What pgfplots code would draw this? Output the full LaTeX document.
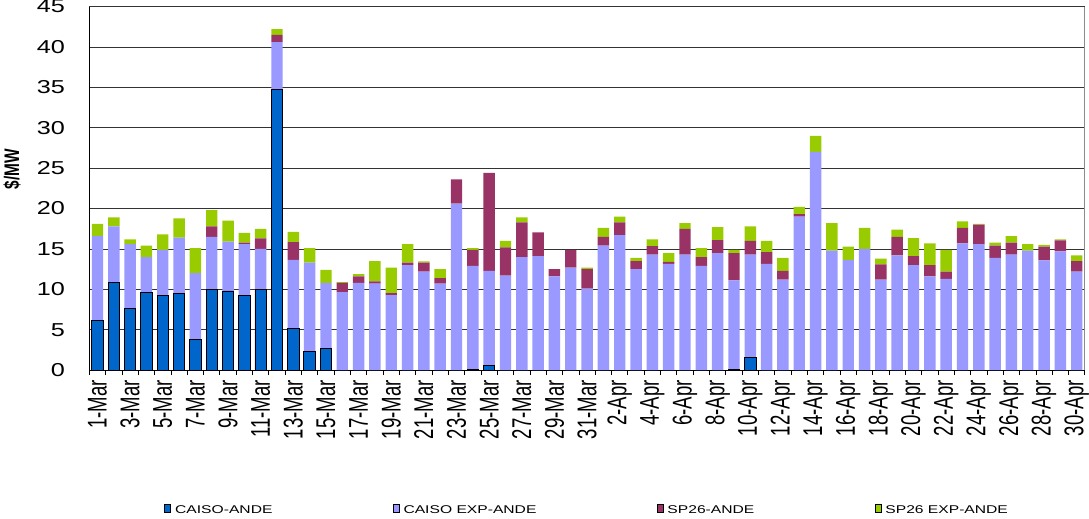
\documentclass[border=0pt]{standalone}
\usepackage{fontspec}
\setmainfont{Liberation Sans}
\newfontfamily\ytickfont{Liberation Sans}[FakeStretch=1.35]
\newfontfamily\legfont{Liberation Sans}[FakeStretch=1.39]
\newfontfamily\xtickfont{Liberation Sans}[FakeStretch=0.685]
\newfontfamily\ylabfont{Liberation Sans}[FakeStretch=0.73]
\usepackage{pgfplots}
\usepackage{pgfplotstable}
\pgfplotsset{compat=1.18}

\definecolor{caiso}{HTML}{0066CC}
\definecolor{caisoexp}{HTML}{9999FF}
\definecolor{sptwosix}{HTML}{993366}
\definecolor{sptwosixexp}{HTML}{99CC00}

% day, CAISO-ANDE, CAISO EXP-ANDE, SP26-ANDE, SP26 EXP-ANDE
\pgfplotstableread{
x a b c d
1 6.1 10.5 0 1.5
2 10.9 6.9 0 1.1
3 7.6 8.0 0 0.6
4 9.6 4.4 0 1.4
5 9.2 5.7 0 1.9
6 9.5 6.9 0 2.4
7 3.8 8.2 0 3.1
8 10.0 6.5 1.3 2.0
9 9.8 6.1 0 2.6
10 9.25 6.35 0.2 1.2
11 10.0 5.0 1.3 1.2
12 34.7 5.9 0.9 0.7
13 5.2 8.45 2.2 1.25
14 2.3 11.0 0 1.8
15 2.7 8.1 0 1.6
16 0 9.67 1.13 0.1
17 0 10.8 0.8 0.3
18 0 10.7 0.3 2.5
19 0 9.3 0.25 3.15
20 0 13.0 0.3 2.3
21 0 12.2 1.1 0.15
22 0 10.7 0.7 1.1
23 0 20.6 3.0 0
24 0.1 12.8 2.0 0.2
25 0.62 11.68 12.1 0
26 0 11.7 3.5 0.8
27 0 14.0 4.3 0.6
28 0 14.1 2.95 0
29 0 11.6 0.9 0
30 0 12.7 2.2 0
31 0 10.1 2.4 0.2
32 0 15.4 1.1 1.1
33 0 16.7 1.6 0.7
34 0 12.5 1.0 0.4
35 0 14.3 1.05 0.85
36 0 13.15 0.25 1.1
37 0 14.3 3.2 0.7
38 0 12.9 1.1 1.1
39 0 14.5 1.6 1.6
40 0.1 11.0 3.4 0.4
41 1.6 12.7 1.7 1.8
42 0 13.15 1.45 1.4
43 0 11.2 1.1 1.6
44 0 19.0 0.3 0.9
45 0 27.0 0 2.0
46 0 14.8 0 3.4
47 0 13.65 0 1.65
48 0 15.0 0 2.6
49 0 11.2 1.9 0.7
50 0 14.2 2.3 0.9
51 0 13.0 1.1 2.25
52 0 11.6 1.4 2.7
53 0 11.3 0.9 2.7
54 0 15.7 1.9 0.8
55 0 15.6 2.4 0.1
56 0 13.9 1.5 0.4
57 0 14.3 1.5 0.8
58 0 14.8 0 0.8
59 0 13.6 1.7 0.2
60 0 14.7 1.35 0.15
61 0 12.2 1.3 0.7
}\prices

\pgfplotsset{ybar legend/.style={legend image code/.code={\draw[##1] (0pt,-3pt) rectangle (7pt,4pt);}}}

\begin{document}
\begin{tikzpicture}
\begin{axis}[
  ybar stacked,
  scale only axis,
  width=991pt, height=362pt,
  bar width=0.7,
  xmin=0.5, xmax=61.5,
  ymin=0, ymax=45,
  axis x line*=bottom,
  axis y line*=left,
  axis line style={black, line width=0.9pt},
  ytick={0,5,...,45},
  yticklabels={0,5,10,15,20,25,30,35,40,45},
  ymajorgrids,
  major grid style={black!80, line width=0.8pt},
  xtick={1,3,...,61},
  xticklabels={1-Mar,3-Mar,5-Mar,7-Mar,9-Mar,11-Mar,13-Mar,15-Mar,17-Mar,19-Mar,21-Mar,23-Mar,25-Mar,27-Mar,29-Mar,31-Mar,2-Apr,4-Apr,6-Apr,8-Apr,10-Apr,12-Apr,14-Apr,16-Apr,18-Apr,20-Apr,22-Apr,24-Apr,26-Apr,28-Apr,30-Apr},
  minor xtick={0.5,1.5,...,61.5},
  major tick length=0pt,
  minor tick length=5pt,
  tick align=outside,
  xtick pos=left, ytick pos=left,
  tick style={black, line width=0.8pt},
  extra x ticks={61.5},
  extra x tick labels={},
  extra x tick style={xmajorgrids, major grid style={black!45, line width=1pt}},
  yticklabel style={font=\ytickfont\fontsize{18.6}{20}\selectfont, anchor=east, inner sep=0pt, xshift=-24pt},
  xticklabel style={font=\xtickfont\fontsize{27}{28}\selectfont, rotate=90, anchor=east, inner xsep=10pt, inner ysep=0pt},
  ylabel={\$/MW},
  ylabel style={font=\ylabfont\bfseries\fontsize{21}{22}\selectfont, at={(axis description cs:-0.0777,0.5525)}, anchor=center},
  legend columns=4,
  legend style={draw=none, at={(0.5,-0.385)}, anchor=center,
    font=\legfont\fontsize{11.2}{12}\selectfont,
    /tikz/every odd column/.append style={column sep=2pt},
    /tikz/every even column/.append style={column sep=118pt}},
]
\addplot[fill=caiso, draw=black, line width=0.9pt] table[x=x, y=a] {\prices};
\addplot[fill=caisoexp, draw=none] table[x=x, y=b] {\prices};
\addplot[fill=sptwosix, draw=none] table[x=x, y=c] {\prices};
\addplot[fill=sptwosixexp, draw=none] table[x=x, y=d] {\prices};
\legend{CAISO-ANDE, CAISO EXP-ANDE, SP26-ANDE, SP26 EXP-ANDE}
\end{axis}
\end{tikzpicture}
\end{document}
